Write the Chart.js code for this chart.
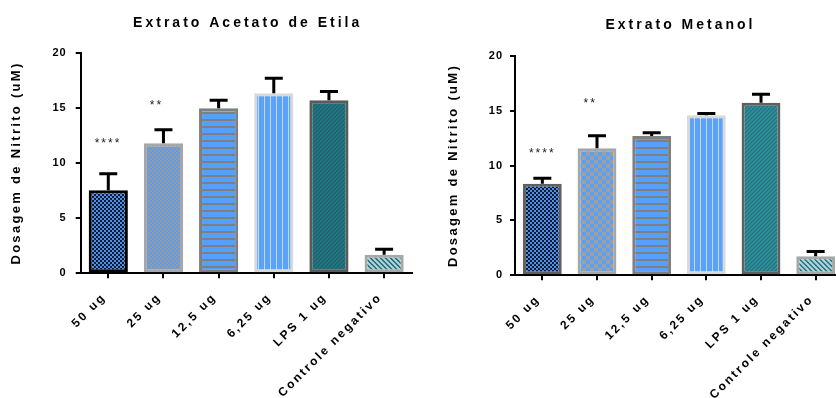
<!DOCTYPE html>
<html>
<head>
<meta charset="utf-8">
<script src="https://cdn.jsdelivr.net/npm/chart.js@4/dist/chart.umd.min.js"></script>
<style>
  html, body { margin: 0; padding: 0; background: #fff; overflow: hidden; }
  #wrap { position: relative; width: 836px; height: 398px; overflow: hidden; background: #fff; }
  canvas { position: absolute; top: 0; }
  #acetato { left: 0; }
  #metanol { left: 418px; }
</style>
</head>
<body>
<div id="wrap">
  <canvas id="acetato" width="418" height="398"></canvas>
  <canvas id="metanol" width="430" height="398"></canvas>
</div>
<script>
// ---- data ----
const categories = ['50 ug', '25 ug', '12,5 ug', '6,25 ug', 'LPS 1 ug', 'Controle negativo'];
const yTicks = [0, 5, 10, 15, 20];

const acetatoMeans = [7.52, 11.78, 14.96, 16.32, 15.68, 1.69];
const acetatoSD    = [1.50, 1.23, 0.73, 1.37, 0.80, 0.50];
const acetatoSig   = ['****', '**', '', '', '', ''];
const acetatoSigAt = [12.1, 15.5, null, null, null, null];

const metanolMeans = [8.34, 11.57, 12.69, 14.57, 15.72, 1.73];
const metanolSD    = [0.50, 1.13, 0.29, 0.17, 0.77, 0.44];
const metanolSig   = ['****', '**', '', '', '', ''];
const metanolSigAt = [11.4, 16.0, null, null, null, null];

const FONT = '"Liberation Sans", Arial, Helvetica, sans-serif';

// ---- fill patterns ----
function tile(w, h, paint) {
  const c = document.createElement('canvas');
  c.width = w; c.height = h;
  const g = c.getContext('2d');
  paint(g, w, h);
  return g.createPattern(c, 'repeat');
}
function checker(a, b, s) {
  return tile(2 * s, 2 * s, g => {
    g.fillStyle = a; g.fillRect(0, 0, 2 * s, 2 * s);
    g.fillStyle = b; g.fillRect(0, 0, s, s); g.fillRect(s, s, s, s);
  });
}
function hLines(bg, line, period, thick) {
  return tile(4, period, g => {
    g.fillStyle = bg; g.fillRect(0, 0, 4, period);
    g.fillStyle = line; g.fillRect(0, 0, 4, thick);
  });
}
function vLines(bg, line, period, thick) {
  return tile(period, 4, g => {
    g.fillStyle = bg; g.fillRect(0, 0, period, 4);
    g.fillStyle = line; g.fillRect(0, 0, thick, 4);
  });
}
function diag(bg, line, p, thick, rising) {
  return tile(p, p, g => {
    g.fillStyle = bg; g.fillRect(0, 0, p, p);
    g.strokeStyle = line; g.lineWidth = thick;
    g.beginPath();
    if (rising) {
      g.moveTo(-1, p + 1); g.lineTo(p + 1, -1);
      g.moveTo(-1, 1); g.lineTo(1, -1);
      g.moveTo(p - 1, p + 1); g.lineTo(p + 1, p - 1);
    } else {
      g.moveTo(-1, -1); g.lineTo(p + 1, p + 1);
      g.moveTo(p - 1, -1); g.lineTo(p + 1, 1);
      g.moveTo(-1, p - 1); g.lineTo(1, p + 1);
    }
    g.stroke();
  });
}

const acetatoFills = [
  checker('#4f8fe8', '#0d1a30', 2),
  checker('#5a9cf0', '#9a9a9a', 2),
  hLines('#55a0fa', '#7f7f7f', 7, 2),
  vLines('#5aa2fa', '#c2d9f5', 6, 1),
  diag('#137f8d', '#2f5a64', 4, 1.3, true),
  diag('#1d6a78', '#b5d6da', 5, 2, false)
];
const acetatoBorders = ['#000000', '#a6a6a6', '#7f7f7f', '#d9d9d9', '#5a5a5a', '#a8a8a8'];

const metanolFills = [
  checker('#4f8fe8', '#0d1a30', 2),
  checker('#5aa0f5', '#a0a0a0', 4),
  hLines('#55a0fa', '#7f7f7f', 7, 2),
  vLines('#5aa2fa', '#c2d9f5', 6, 1),
  diag('#1c9aaa', '#3b6a74', 4, 1.3, true),
  diag('#1f7482', '#b5d6da', 5, 2, false)
];
const metanolBorders = ['#606060', '#a6a6a6', '#7f7f7f', '#d9d9d9', '#5f5f5f', '#a8a8a8'];

// ---- plugins ----
const spacing = {
  id: 'spacing',
  beforeLayout(chart) { chart.ctx.letterSpacing = '2.3px'; },
  beforeDraw(chart) {
    chart.ctx.letterSpacing = '2.3px';
    const ys = chart.scales.y;
    if (!ys._tight) {
      const orig = ys.drawLabels;
      ys.drawLabels = function (area) {
        const c = this.ctx, prev = c.letterSpacing;
        c.letterSpacing = '1px';
        orig.call(this, area);
        c.letterSpacing = prev;
      };
      ys._tight = true;
    }
  }
};

const errorBars = {
  id: 'errorBars',
  afterDatasetsDraw(chart, args, opts) {
    const { ctx } = chart;
    const y = chart.scales.y;
    const ds = chart.data.datasets[0];
    const meta = chart.getDatasetMeta(0);
    ctx.save();
    ctx.strokeStyle = '#000';
    ctx.lineWidth = 3;
    meta.data.forEach((bar, i) => {
      const top = y.getPixelForValue(ds.data[i] + opts.sd[i]);
      ctx.beginPath();
      ctx.moveTo(bar.x, bar.y);
      ctx.lineTo(bar.x, top);
      ctx.moveTo(bar.x - 9, top);
      ctx.lineTo(bar.x + 9, top);
      ctx.stroke();
    });
    ctx.restore();
  }
};

const stars = {
  id: 'stars',
  afterDatasetsDraw(chart, args, opts) {
    const { ctx } = chart;
    const y = chart.scales.y;
    const meta = chart.getDatasetMeta(0);
    ctx.save();
    ctx.letterSpacing = '2px';
    ctx.font = '12px ' + FONT;
    ctx.fillStyle = '#222';
    ctx.textAlign = 'left';
    ctx.textBaseline = 'alphabetic';
    opts.marks.forEach((m, i) => {
      if (!m) return;
      const bar = meta.data[i];
      ctx.fillText(m, bar.x - bar.width / 2 + 6, y.getPixelForValue(opts.at[i]) + 7);
    });
    ctx.restore();
  }
};

const heading = {
  id: 'heading',
  afterDraw(chart, args, opts) {
    const { ctx, chartArea } = chart;
    ctx.save();
    ctx.letterSpacing = '3px';
    ctx.font = 'bold 14px ' + FONT;
    ctx.fillStyle = '#000';
    ctx.textAlign = 'center';
    ctx.textBaseline = 'alphabetic';
    ctx.fillText(opts.text, (chartArea.left + chartArea.right) / 2 + 1.5, opts.baseline);
    ctx.restore();
  }
};

// ---- chart builder ----
function makeChart(id, cfg) {
  return new Chart(document.getElementById(id), {
    type: 'bar',
    data: {
      labels: categories,
      datasets: [{
        data: cfg.means,
        backgroundColor: cfg.fills,
        borderColor: cfg.borders,
        borderWidth: 3,
        borderSkipped: false,
        barPercentage: 0.71,
        categoryPercentage: 1
      }]
    },
    options: {
      responsive: false,
      animation: false,
      devicePixelRatio: 1,
      layout: { padding: { top: cfg.top, right: cfg.right, left: 0, bottom: 0 } },
      plugins: {
        legend: { display: false },
        tooltip: { enabled: false },
        heading: { text: cfg.title, baseline: cfg.titleBaseline },
        errorBars: { sd: cfg.sd },
        stars: { marks: cfg.sig, at: cfg.sigAt }
      },
      scales: {
        x: {
          offset: true,
          grid: { display: true, offset: false, drawOnChartArea: false, drawTicks: true,
                  tickLength: 5, color: '#000', lineWidth: 2 },
          border: { display: true, color: '#000', width: 2 },
          ticks: { color: '#000', autoSkip: false, minRotation: 45, maxRotation: 45,
                   padding: 12, labelOffset: -4,
                   font: { family: FONT, size: 12, weight: 'bold' } },
          afterFit(s) { s.height = cfg.xHeight; }
        },
        y: {
          min: 0, max: 20,
          afterBuildTicks(s) { s.ticks = yTicks.map(v => ({ value: v })); },
          grid: { display: true, drawOnChartArea: false, drawTicks: true,
                  tickLength: 5, color: '#000', lineWidth: 2 },
          border: { display: true, color: '#000', width: 2 },
          ticks: { color: '#000', padding: cfg.yTickPad,
                   font: { family: FONT, size: 11, weight: 'bold' } },
          title: { display: true, text: 'Dosagem de Nitrito (uM)', color: '#000',
                   font: { family: FONT, size: 13, weight: 'bold' },
                   padding: { top: cfg.yTitlePad, bottom: 0 } },
          afterFit(s) { s.width = cfg.yWidth; }
        }
      }
    },
    plugins: [spacing, errorBars, stars, heading]
  });
}

makeChart('acetato', {
  title: 'Extrato Acetato de Etila', titleBaseline: 26.5,
  means: acetatoMeans, sd: acetatoSD, sig: acetatoSig, sigAt: acetatoSigAt,
  fills: acetatoFills, borders: acetatoBorders,
  top: 52.7, right: 6.3, xHeight: 124.7, yWidth: 80.7, yTickPad: 9, yTitlePad: 8.2
});

makeChart('metanol', {
  title: 'Extrato Metanol', titleBaseline: 28.5,
  means: metanolMeans, sd: metanolSD, sig: metanolSig, sigAt: metanolSigAt,
  fills: metanolFills, borders: metanolBorders,
  top: 55.7, right: 5, xHeight: 122.7, yWidth: 97, yTickPad: 7, yTitlePad: 27.2
});
</script>
</body>
</html>
